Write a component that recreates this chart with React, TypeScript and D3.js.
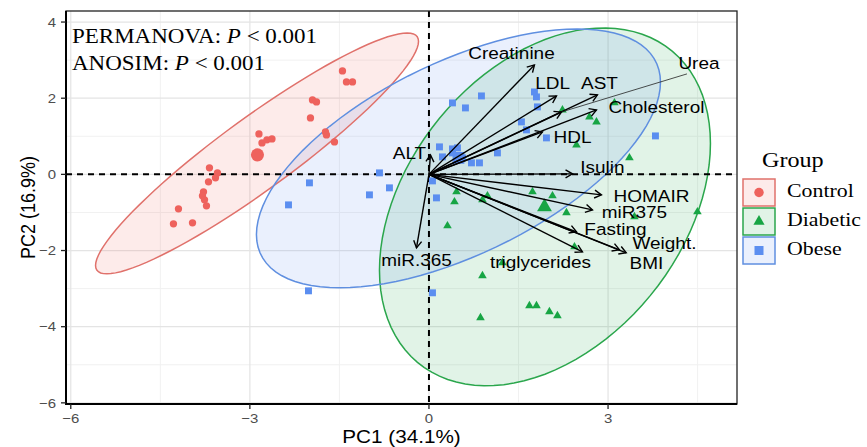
import React from 'react';
import * as d3 from 'd3';

// scores (PC1, PC2)
const controlPC1 = [-1.449, -1.382, -1.281, -1.951, -1.884, -1.985, -1.734, -1.717, -1.583, -2.848, -2.797, -2.714, -2.63, -3.677, -3.543, -3.576, -3.693, -3.777, -3.794, -3.76, -3.727, -4.196, -4.28, -3.961];
const controlPC2 = [2.717, 2.428, 2.428, 1.955, 1.903, 1.483, 1.115, 1.037, 0.853, 1.063, 0.827, 0.906, 0.932, 0.171, 0.039, -0.092, -0.197, -0.459, -0.564, -0.669, -0.827, -0.906, -1.299, -1.273];

const diabeticPC1 = [2.236, 2.688, 2.806, 3.107, 2.471, 3.358, 1.734, 2.069, 2.303, 3.442, 4.497, 0.461, 0.427, 0.98, 0.896, 0.31, 2.437, 1.231, 0.896, 0.863, 1.683, 1.801, 2.018, 2.152];
const diabeticPC2 = [1.693, 1.509, 1.378, 1.877, 0.774, 0.433, -0.459, -0.564, -1.01, -1.115, -0.984, -0.459, -0.722, -0.564, -0.669, -1.352, -1.903, -2.323, -2.664, -3.766, -3.451, -3.451, -3.609, -3.714];

const obesePC1 = [0.879, 0.611, 0.394, 1.767, 1.801, 1.817, 1.549, 1.633, 1.968, 3.794, 0.176, 0.394, 0.477, 0.394, 0.712, 0.846, 1.147, 0.226, 0.561, 0.059, 0.126, 0.059, -2.018, -0.829, -2.002, -2.353, -0.997, -0.662];
const obesePC2 = [2.06, 1.745, 1.877, 2.165, 2.034, 1.772, 1.378, 1.168, 0.958, 1.01, 0.722, 0.669, 0.696, 0.564, 0.302, 0.302, 0.564, 0.459, 0.433, -0.171, -0.617, -3.11, -3.058, 0.039, -0.223, -0.801, -0.538, -0.354];

const groupNames = ['Control', 'Diabetic', 'Obese'];
const groupColors = ['#ee625d', '#17a544', '#5b8ef0'];
const ellipseLine = ['#e0716b', '#2aa64c', '#5f8fe0'];
const groupMeanPC1 = [-2.873, 1.935, 0.494];
const groupMeanPC2 = [0.512, -0.853, 0.433];

// confidence ellipses: centre + two conjugate half-axes (data units)
const ellipseCX = [-2.88, 1.943, 0.494];
const ellipseCY = [0.55, -0.853, 0.42];
const ellipseAX = [2.705, 2.772, 3.384];
const ellipseAY = [2.942, 1.664, 2.0];
const ellipseBY = [-1.16, -4.394, -2.748];

// variable loadings (arrow tips) and label spots
const varNames = ['Creatinine', 'LDL', 'AST', 'Urea', 'Cholesterol', 'HDL', 'ALT', 'Isulin', 'HOMAIR', 'miR375', 'Fasting', 'Weight.', 'BMI', 'triglycerides', 'miR.365'];
const varPC1 = [1.767, 2.136, 2.822, 2.219, 2.806, 1.901, 0.025, 2.404, 2.889, 2.739, 2.471, 3.304, 3.191, 2.571, -0.209];
const varPC2 = [2.874, 2.06, 2.087, 1.638, 1.693, 1.115, 0.512, 0.013, -0.538, -0.932, -1.509, -2.06, -1.982, -2.034, -1.929];
const labelPC1 = [1.382, 2.072, 2.856, 4.523, 3.811, 2.404, -0.327, 2.906, 3.727, 3.442, 3.124, 3.945, 3.643, 1.868, -0.209];
const labelPC2 = [3.189, 2.402, 2.402, 2.927, 1.772, 0.984, 0.564, 0.197, -0.565, -1.0, -1.43, -1.798, -2.323, -2.297, -2.244];
const repelled = ['Urea'];

const xTicks = [-6, -3, 0, 3];
const yTicks = [-6, -4, -2, 0, 2, 4];

const W = 867;
const H = 447;
const panel = { left: 66, right: 737, top: 11, bottom: 404 };
const SX = 1.15; // reference is stretched sideways
const SANS = '"Liberation Sans", Arial, sans-serif';
const SERIF = '"Liberation Serif", "Times New Roman", serif';

const x = d3.scaleLinear().domain([-6.08, 5.16]).range([panel.left, panel.right]);
const y = d3.scaleLinear().domain([-6.03, 4.29]).range([panel.bottom, panel.top]);

const fmt = (v: number) => (v < 0 ? '\u2212' + Math.abs(v) : String(v));

const Txt = ({ px, py, size, family, anchor = 'start', fill = '#000', rotate = false, children, dy }: any) => (
    <text
        transform={rotate
            ? `translate(${px},${py}) rotate(-90) scale(1,${SX})`
            : `translate(${px},${py}) scale(${SX},1)`}
        textAnchor={anchor}
        fontSize={size}
        fontFamily={family}
        fill={fill}
        dy={dy}
    >
        {children}
    </text>
);

const symbolFor = (g: number, big: boolean) => {
    const types = [d3.symbolCircle, d3.symbolTriangle, d3.symbolSquare];
    const sizes = big ? [135, 95, 140] : [42, 32, 48];
    return d3.symbol(types[g], sizes[g])() as string;
};

const ellipsePath = (g: number) => {
    const pts: [number, number][] = d3.range(0, 101).map(i => {
        const t = (i / 100) * Math.PI * 2;
        return [
            x(ellipseCX[g] + ellipseAX[g] * Math.cos(t)),
            y(ellipseCY[g] + ellipseAY[g] * Math.cos(t) + ellipseBY[g] * Math.sin(t)),
        ];
    });
    return d3.line()(pts) + 'Z';
};

const App = () => {
    const groups = [
        { pc1: controlPC1, pc2: controlPC2 },
        { pc1: diabeticPC1, pc2: diabeticPC2 },
        { pc1: obesePC1, pc2: obesePC2 },
    ];
    const minorX = d3.range(-4.5, 5, 3);
    const minorY = d3.range(-5, 4.5, 2);
    const ox = x(0);
    const oy = y(0);

    return (
        <svg width={W} height={H} style={{ position: 'absolute', left: 0, top: 0, background: '#fff' }}>
            <rect x={0} y={0} width={W} height={H} fill="#fff" />
            <defs>
                <clipPath id="clip">
                    <rect x={panel.left} y={panel.top} width={panel.right - panel.left} height={panel.bottom - panel.top} />
                </clipPath>
            </defs>

            {/* grid */}
            <g stroke="#f1f1f1" strokeWidth={1}>
                {minorX.map(v => <line key={'mx' + v} x1={x(v)} x2={x(v)} y1={panel.top} y2={panel.bottom} />)}
                {minorY.map(v => <line key={'my' + v} y1={y(v)} y2={y(v)} x1={panel.left} x2={panel.right} />)}
            </g>
            <g stroke="#e4e4e4" strokeWidth={1.2}>
                {xTicks.map(v => <line key={'gx' + v} x1={x(v)} x2={x(v)} y1={panel.top} y2={panel.bottom} />)}
                {yTicks.map(v => <line key={'gy' + v} y1={y(v)} y2={y(v)} x1={panel.left} x2={panel.right} />)}
            </g>

            <g clipPath="url(#clip)">
                {/* ellipses */}
                {groupNames.map((g, i) => (
                    <path key={'ef' + g} d={ellipsePath(i)} fill={groupColors[i]} fillOpacity={0.13} stroke="none" />
                ))}
                {groupNames.map((g, i) => (
                    <path key={'es' + g} d={ellipsePath(i)} fill="none" stroke={ellipseLine[i]} strokeWidth={1.5} />
                ))}

                {/* reference lines */}
                <line x1={ox} x2={ox} y1={panel.top} y2={panel.bottom} stroke="#000" strokeWidth={2} strokeDasharray="6,5" />
                <line y1={oy} y2={oy} x1={panel.left} x2={panel.right} stroke="#000" strokeWidth={2} strokeDasharray="6,5" />

                {/* points */}
                {groups.map((grp, gi) => grp.pc1.map((v, j) => (
                    <path key={gi + '-' + j} d={symbolFor(gi, false)} transform={`translate(${x(v)},${y(grp.pc2[j])})`} fill={groupColors[gi]} />
                )))}
                {groupNames.map((g, i) => (
                    <path key={'mean' + g} d={symbolFor(i, true)} transform={`translate(${x(groupMeanPC1[i])},${y(groupMeanPC2[i])})`} fill={groupColors[i]} />
                ))}

                {/* loadings */}
                {varNames.map((name, i) => {
                    const tx = x(varPC1[i]);
                    const ty = y(varPC2[i]);
                    const a = Math.atan2(ty - oy, tx - ox);
                    const L = 8;
                    const h1 = [tx - L * Math.cos(a - Math.PI / 6), ty - L * Math.sin(a - Math.PI / 6)];
                    const h2 = [tx - L * Math.cos(a + Math.PI / 6), ty - L * Math.sin(a + Math.PI / 6)];
                    return (
                        <g key={'v' + name} stroke="#000" strokeWidth={1.4} fill="none">
                            <line x1={ox} y1={oy} x2={tx} y2={ty} />
                            <polyline points={`${h1[0]},${h1[1]} ${tx},${ty} ${h2[0]},${h2[1]}`} />
                        </g>
                    );
                })}
                {varNames.filter(n => repelled.includes(n)).map(name => {
                    const i = varNames.indexOf(name);
                    const tx = x(varPC1[i]);
                    const ty = y(varPC2[i]);
                    const lx = x(labelPC1[i]) - 12;
                    const ly = y(labelPC2[i]) + 11;
                    return <line key={'seg' + name} x1={tx} y1={ty} x2={lx} y2={ly} stroke="#222" strokeWidth={0.8} />;
                })}
                {varNames.map((name, i) => (
                    <Txt key={'l' + name} px={x(labelPC1[i])} py={y(labelPC2[i])} size={16.5} family={SANS} anchor="middle" dy="0.36em">
                        {name}
                    </Txt>
                ))}
            </g>

            {/* stats text */}
            <Txt px={72} py={43} size={20} family={SERIF}>
                PERMANOVA: <tspan fontStyle="italic">P</tspan> &lt; 0.001
            </Txt>
            <Txt px={72} py={70} size={20} family={SERIF}>
                ANOSIM: <tspan fontStyle="italic">P</tspan> &lt; 0.001
            </Txt>

            {/* border and axes */}
            <rect x={panel.left} y={panel.top} width={panel.right - panel.left} height={panel.bottom - panel.top} fill="none" stroke="#222" strokeWidth={1.3} />
            <line x1={panel.left} x2={panel.left} y1={panel.top} y2={panel.bottom + 1} stroke="#000" strokeWidth={2} />
            <line x1={panel.left - 1} x2={panel.right} y1={panel.bottom} y2={panel.bottom} stroke="#000" strokeWidth={2} />
            {xTicks.map(v => (
                <g key={'xt' + v}>
                    <line x1={x(v)} x2={x(v)} y1={panel.bottom} y2={panel.bottom + 5} stroke="#222" strokeWidth={1.3} />
                    <Txt px={x(v)} py={423} size={13} family={SANS} anchor="middle" fill="#4d4d4d">{fmt(v)}</Txt>
                </g>
            ))}
            {yTicks.map(v => (
                <g key={'yt' + v}>
                    <line x1={panel.left - 5} x2={panel.left} y1={y(v)} y2={y(v)} stroke="#222" strokeWidth={1.3} />
                    <Txt px={56} py={y(v)} size={13} family={SANS} anchor="end" fill="#4d4d4d" dy="0.36em">{fmt(v)}</Txt>
                </g>
            ))}
            <Txt px={(panel.left + panel.right) / 2} py={443} size={18} family={SANS} anchor="middle">PC1 (34.1%)</Txt>
            <Txt px={35} py={(panel.top + panel.bottom) / 2} size={18} family={SANS} anchor="middle" rotate>PC2 (16.9%)</Txt>

            {/* legend */}
            <Txt px={762} py={167} size={21} family={SERIF}>Group</Txt>
            {groupNames.map((g, i) => {
                const ky = 179 + i * 29;
                return (
                    <g key={'lg' + g}>
                        <rect x={743} y={ky} width={32} height={27} fill={groupColors[i]} fillOpacity={0.13} stroke={ellipseLine[i]} strokeWidth={1.5} />
                        <path d={symbolFor(i, false)} transform={`translate(759,${ky + 13.5}) scale(1.3)`} fill={groupColors[i]} />
                        <Txt px={787} py={ky + 18} size={19} family={SERIF}>{g}</Txt>
                    </g>
                );
            })}
        </svg>
    );
};

export default App;
